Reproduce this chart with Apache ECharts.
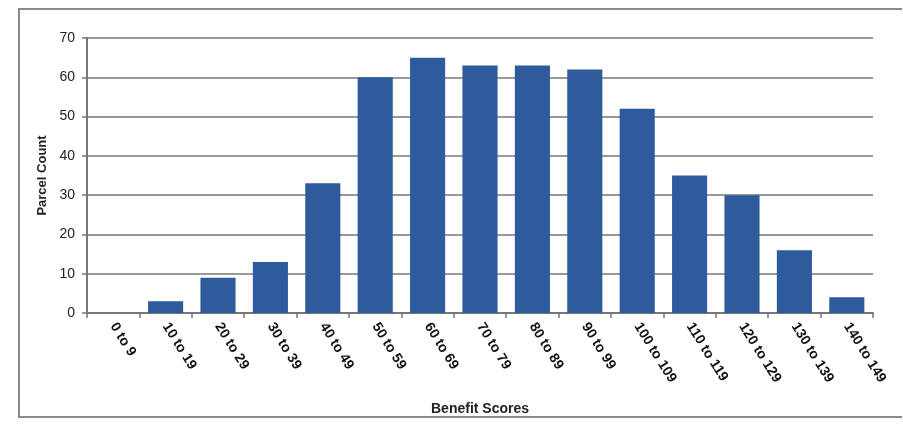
<!DOCTYPE html>
<html>
<head>
<meta charset="utf-8">
<script src="https://cdn.jsdelivr.net/npm/echarts@6/dist/echarts.min.js"></script>
<style>
  html, body { margin: 0; padding: 0; background: #fff; }
  #frame { position: absolute; left: 18px; top: 8px; width: 884px; height: 410px; border: 2px solid #8a8a8a; border-right: none; box-sizing: border-box; }
  #chart { width: 903px; height: 426px; position: absolute; left: 0; top: 0; }
</style>
</head>
<body>
<div id="frame"></div>
<div id="chart"></div>
<script>
// Parcel counts per benefit score range
const categories = ['0 to 9', '10 to 19', '20 to 29', '30 to 39', '40 to 49', '50 to 59', '60 to 69',
  '70 to 79', '80 to 89', '90 to 99', '100 to 109', '110 to 119', '120 to 129', '130 to 139', '140 to 149'];
const parcelCounts = [0, 3, 9, 13, 33, 60, 65, 63, 63, 62, 52, 35, 30, 16, 4];
const yTicks = { min: 0, max: 70, interval: 10 };

const FONT = 'Liberation Sans, Arial, sans-serif';
const chart = echarts.init(document.getElementById('chart'));
chart.setOption({
  animation: false,
  grid: { left: 87, right: 30, top: 38, bottom: 113 },
  xAxis: {
    type: 'category',
    data: categories,
    name: 'Benefit Scores',
    nameLocation: 'middle',
    nameGap: 89,
    nameTextStyle: { fontFamily: FONT, fontSize: 14, fontWeight: 'bold', color: '#222' },
    axisLine: { lineStyle: { color: '#777', width: 2 } },
    axisTick: { show: true, alignWithLabel: false, length: 5, lineStyle: { color: '#777', width: 1.5 } },
    axisLabel: { rotate: -58, interval: 0, margin: 11, fontFamily: FONT, fontSize: 14, fontWeight: 'bold', color: '#111' }
  },
  yAxis: {
    type: 'value',
    min: yTicks.min, max: yTicks.max, interval: yTicks.interval,
    name: 'Parcel Count',
    nameLocation: 'middle',
    nameGap: 35,
    nameTextStyle: { fontFamily: FONT, fontSize: 13, fontWeight: 'bold', color: '#222' },
    axisLine: { show: true, lineStyle: { color: '#777', width: 2 } },
    axisTick: { show: true, length: 5, lineStyle: { color: '#777', width: 1.5 } },
    axisLabel: { margin: 12, fontFamily: FONT, fontSize: 14, color: '#222' },
    splitLine: { lineStyle: { color: '#777', width: 1.5 } }
  },
  series: [{
    type: 'bar',
    data: parcelCounts,
    barWidth: '67%',
    itemStyle: { color: '#2d5b9c' }
  }]
});
</script>
</body>
</html>
